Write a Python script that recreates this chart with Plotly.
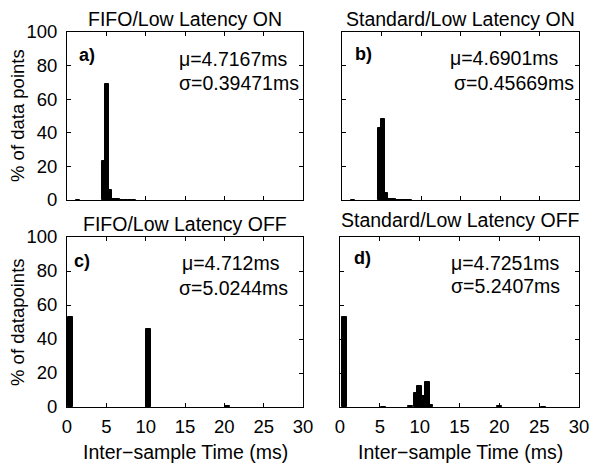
import plotly.graph_objects as go

# ---- data ----
a_x = [1.4, 4.72, 5.08, 5.44, 6.0, 6.5, 7.0, 7.5, 8.0, 8.5]
a_y = [0.3, 23, 69, 6, 0.6, 0.4, 0.3, 0.3, 0.3, 0.2]
b_x = [1.4, 4.85, 5.2, 5.56, 6.0, 6.5, 7.0, 7.5, 8.0, 8.5]
b_y = [0.3, 43, 48, 4, 0.8, 0.4, 0.3, 0.3, 0.3, 0.2]
c_x = [0.48, 10.36, 20.4]
c_y = [53, 46, 0.4]
d_x = [0.53, 5.5, 8.8, 9.6, 9.98, 10.48, 11.0, 11.4, 20.0, 25.5]
d_y = [53, 0.2, 0.5, 8, 12.5, 6.5, 14.5, 1.2, 0.4, 0.2]

titles = ["FIFO/Low Latency ON", "Standard/Low Latency ON",
          "FIFO/Low Latency OFF", "Standard/Low Latency OFF"]
letters = ["a)", "b)", "c)", "d)"]
mus = ["\u03bc=4.7167ms", "\u03bc=4.6901ms", "\u03bc=4.712ms", "\u03bc=4.7251ms"]
sigmas = ["\u03c3=0.39471ms", "\u03c3=0.45669ms", "\u03c3=5.0244ms", "\u03c3=5.2407ms"]
x_ticks = [0, 5, 10, 15, 20, 25, 30]
y_ticks = [0, 20, 40, 60, 80, 100]
y_titles = ["% of data points", "% of datapoints"]
x_title = "Inter\u2212sample Time (ms)"

W, H = 590, 465
FONT = "Liberation Sans, Arial, Helvetica, sans-serif"
FS = 19.5
TFS = 18.5

def fx(p):
    return p / W

def fy(p):
    return 1 - p / H

# panel pixel boxes: (left, right, top, bottom)
boxes = [(67, 303, 32, 200), (342, 579, 32, 200),
         (67, 303, 237, 407), (340, 579, 237, 407)]

fig = go.Figure()
data = [(a_x, a_y), (b_x, b_y), (c_x, c_y), (d_x, d_y)]
for i, (xs, ys) in enumerate(data):
    sfx = "" if i == 0 else str(i + 1)
    fig.add_trace(go.Bar(x=xs, y=ys, width=0.6,
                         marker=dict(color="black", line=dict(color="black", width=1)),
                         xaxis="x" + sfx, yaxis="y" + sfx, showlegend=False))

layout = dict(width=W, height=H, margin=dict(l=0, r=0, t=0, b=0, autoexpand=False),
              paper_bgcolor="white", plot_bgcolor="white",
              font=dict(family=FONT, size=FS, color="black"),
              barmode="overlay", bargap=0)

for i, (l, r, t, b) in enumerate(boxes):
    sfx = "" if i == 0 else str(i + 1)
    bottom_row = i >= 2
    left_col = i % 2 == 0
    layout["xaxis" + sfx] = dict(
        domain=[fx(l), fx(r)], range=[0, 30], anchor="y" + sfx, automargin=False,
        tickvals=x_ticks, ticks="inside", ticklen=4, tickcolor="black",
        showline=True, linecolor="black", linewidth=1, mirror="ticks",
        showgrid=False, zeroline=False, showticklabels=bottom_row,
        ticklabelstandoff=3, tickfont=dict(size=TFS))
    layout["yaxis" + sfx] = dict(
        domain=[fy(b), fy(t)], range=[0, 100], anchor="x" + sfx, automargin=False,
        tickvals=y_ticks, ticks="inside", ticklen=4, tickcolor="black",
        showline=True, linecolor="black", linewidth=1, mirror="ticks",
        showgrid=False, zeroline=False, showticklabels=left_col,
        ticklabelstandoff=5, tickfont=dict(size=TFS))

fig.update_layout(**layout)

ann = []
title_pos = [(185, 19), (460.5, 18.5), (185, 223.5), (460, 220)]
letter_pos = [(77, 55), (353, 54), (72, 261), (352, 257.5)]
mu_pos = [(177, 59, "left"), (448, 58, "left"), (180, 262.5, "left"), (562, 262.5, "right")]
sig_pos = [(177, 83, "left"), (452, 82.5, "left"), (177, 287.5, "left"), (562, 286, "right")]
for i in range(4):
    ann.append(dict(text=titles[i], x=fx(title_pos[i][0]), y=fy(title_pos[i][1]),
                    xref="paper", yref="paper", xanchor="center", yanchor="middle",
                    showarrow=False))
    ann.append(dict(text="<b>" + letters[i] + "</b>", x=fx(letter_pos[i][0]), y=fy(letter_pos[i][1]),
                    xref="paper", yref="paper", xanchor="left", yanchor="middle",
                    showarrow=False, font=dict(size=18)))
    ann.append(dict(text=mus[i], x=fx(mu_pos[i][0]), y=fy(mu_pos[i][1]),
                    xref="paper", yref="paper", xanchor=mu_pos[i][2], yanchor="middle",
                    showarrow=False))
    ann.append(dict(text=sigmas[i], x=fx(sig_pos[i][0]), y=fy(sig_pos[i][1]),
                    xref="paper", yref="paper", xanchor=sig_pos[i][2], yanchor="middle",
                    showarrow=False))
for j, yc in enumerate([116, 322]):
    ann.append(dict(text=y_titles[j], x=fx(17), y=fy(yc), xref="paper", yref="paper",
                    xanchor="center", yanchor="middle", textangle=-90, showarrow=False,
                    font=dict(size=18.5)))
for xc in [185, 460]:
    ann.append(dict(text=x_title, x=fx(xc), y=fy(452), xref="paper", yref="paper",
                    xanchor="center", yanchor="middle", showarrow=False))
fig.update_layout(annotations=ann)

fig.write_html("out.html", config={"displayModeBar": False},
               post_script="document.body.style.margin='0';document.body.style.overflow='hidden';")
